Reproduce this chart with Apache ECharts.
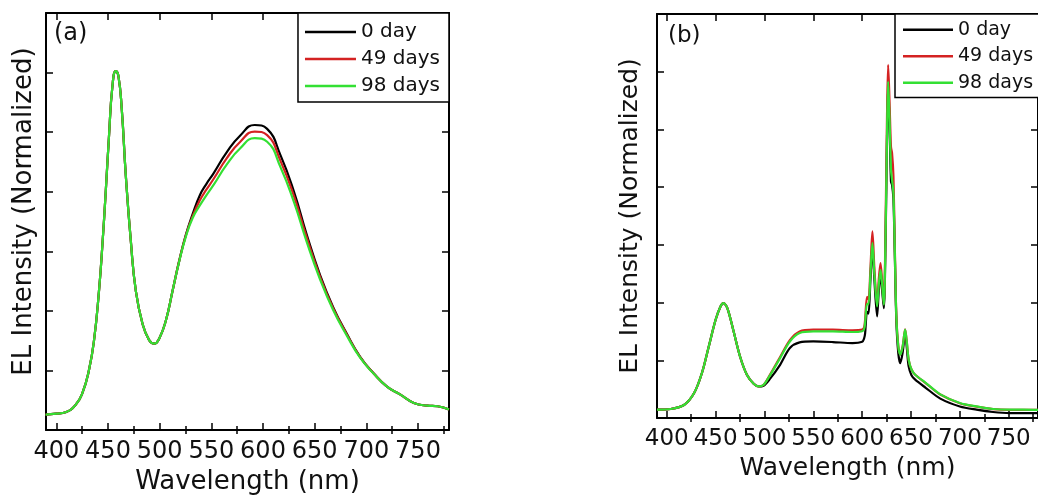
<!DOCTYPE html>
<html>
<head>
<meta charset="utf-8">
<script src="https://cdn.jsdelivr.net/npm/echarts@6/dist/echarts.min.js"></script>
<style>
html,body{margin:0;padding:0;background:#fff;}
#c{width:1038px;height:500px;}
</style>
</head>
<body>
<div id="c"></div>
<script>
// ---------- data ----------
const seriesNames = ['0 day', '49 days', '98 days'];
const majorTicks = [400, 450, 500, 550, 600, 650, 700, 750];
const minorTicks = [425, 475, 525, 575, 625, 675, 725, 775];

// panel (a)
const wlA = [389.6, 400, 409, 418.7, 425.2, 431.6, 436.5, 441.3, 444.6, 447.8, 451, 454.3, 457.5, 460.1, 463.3, 467.2, 472.1, 476.9, 483.4, 489.8, 494.7, 499.5, 506, 512.5, 518.9, 525.4, 531.9, 539, 545, 552, 565, 578, 592, 604, 617, 630, 642, 655, 668, 681, 694, 707, 720, 733, 746, 759, 769, 780];
const a0day = [0.052, 0.055, 0.060, 0.085, 0.124, 0.202, 0.302, 0.468, 0.623, 0.800, 0.989, 1.155, 1.205, 1.188, 1.078, 0.856, 0.634, 0.468, 0.357, 0.302, 0.290, 0.307, 0.368, 0.468, 0.568, 0.656, 0.725, 0.789, 0.825, 0.861, 0.933, 0.989, 1.024, 1.011, 0.922, 0.800, 0.660, 0.523, 0.412, 0.324, 0.246, 0.191, 0.146, 0.119, 0.091, 0.082, 0.080, 0.069];
const a49days = [0.052, 0.055, 0.060, 0.085, 0.124, 0.202, 0.302, 0.468, 0.623, 0.800, 0.989, 1.155, 1.205, 1.188, 1.078, 0.856, 0.634, 0.468, 0.357, 0.302, 0.290, 0.307, 0.368, 0.468, 0.568, 0.654, 0.718, 0.772, 0.806, 0.842, 0.913, 0.968, 1.002, 0.990, 0.903, 0.785, 0.650, 0.517, 0.408, 0.322, 0.245, 0.191, 0.146, 0.119, 0.091, 0.082, 0.080, 0.069];
const a98days = [0.052, 0.055, 0.060, 0.085, 0.124, 0.202, 0.302, 0.468, 0.623, 0.800, 0.989, 1.155, 1.205, 1.188, 1.078, 0.856, 0.634, 0.468, 0.357, 0.302, 0.290, 0.307, 0.368, 0.468, 0.566, 0.650, 0.712, 0.755, 0.787, 0.822, 0.892, 0.946, 0.980, 0.968, 0.882, 0.765, 0.635, 0.508, 0.402, 0.318, 0.243, 0.190, 0.146, 0.119, 0.091, 0.082, 0.080, 0.069];

// panel (b)
const wlB = [390, 404, 418, 428, 436, 443, 450, 455, 458, 462, 468, 475, 482, 489, 494, 499, 505, 516, 526, 536, 550, 570, 590, 600, 602, 603, 605, 606.5, 608.5, 610.5, 612.5, 615.3, 617, 618.8, 620.5, 622.2, 624, 625.5, 626.6, 628, 629.5, 630.6, 632, 633.4, 635, 637, 639, 641.5, 644, 645.8, 647.6, 650.5, 654.3, 665, 680, 700, 717, 734, 751, 765, 780];
const b0day = [0.072, 0.078, 0.115, 0.216, 0.390, 0.620, 0.851, 0.966, 0.996, 0.952, 0.765, 0.533, 0.375, 0.297, 0.274, 0.280, 0.332, 0.461, 0.606, 0.655, 0.663, 0.658, 0.649, 0.660, 0.690, 0.730, 0.920, 0.905, 1.200, 1.480, 1.200, 0.880, 1.100, 1.250, 1.100, 0.952, 1.550, 2.450, 2.880, 2.550, 2.050, 2.020, 1.900, 1.420, 0.840, 0.560, 0.476, 0.570, 0.736, 0.600, 0.447, 0.370, 0.332, 0.262, 0.168, 0.100, 0.072, 0.052, 0.043, 0.043, 0.042];
const b49days = [0.072, 0.078, 0.115, 0.216, 0.390, 0.620, 0.851, 0.966, 0.996, 0.952, 0.765, 0.533, 0.375, 0.297, 0.274, 0.286, 0.365, 0.528, 0.675, 0.750, 0.765, 0.765, 0.760, 0.765, 0.785, 0.850, 1.050, 1.030, 1.300, 1.616, 1.300, 0.980, 1.200, 1.342, 1.180, 0.990, 1.700, 2.650, 3.059, 2.750, 2.350, 2.294, 2.100, 1.500, 0.890, 0.625, 0.550, 0.625, 0.768, 0.650, 0.505, 0.420, 0.375, 0.303, 0.203, 0.128, 0.098, 0.077, 0.071, 0.071, 0.070];
const b98days = [0.072, 0.078, 0.115, 0.216, 0.390, 0.620, 0.851, 0.966, 0.996, 0.952, 0.765, 0.533, 0.375, 0.297, 0.274, 0.286, 0.360, 0.519, 0.663, 0.736, 0.750, 0.750, 0.745, 0.752, 0.770, 0.820, 0.990, 0.985, 1.250, 1.515, 1.250, 0.966, 1.150, 1.284, 1.150, 0.981, 1.600, 2.500, 2.914, 2.600, 2.150, 2.063, 1.950, 1.457, 0.880, 0.620, 0.548, 0.620, 0.765, 0.650, 0.505, 0.420, 0.375, 0.305, 0.205, 0.130, 0.100, 0.078, 0.072, 0.072, 0.070];

const colors = ['#000000', '#d42222', '#33e033'];
const FONT = 'DejaVu Sans';

// ---------- helpers ----------
function pairs(xs, ys) { return xs.map((x, i) => [x, ys[i]]); }

function xAxes(gridIndex, tickFont, nameSize) {
  const base = { type: 'value', gridIndex: gridIndex, min: 390, max: 780, splitLine: { show: false } };
  const line = { show: true, onZero: false, lineStyle: { color: '#000', width: 2 } };
  return [
    Object.assign({}, base, {
      position: 'bottom', axisLine: line,
      axisTick: { show: true, inside: true, length: 7, customValues: majorTicks, lineStyle: { color: '#000', width: 1.5 } },
      axisLabel: { show: true, customValues: majorTicks, margin: 10, color: '#111', fontSize: tickFont, fontFamily: FONT },
      name: 'Wavelength (nm)', nameLocation: 'middle', nameGap: 35,
      nameTextStyle: { fontSize: nameSize, fontFamily: FONT, color: '#111' }
    }),
    Object.assign({}, base, {
      position: 'bottom', axisLine: { show: false },
      axisTick: { show: true, inside: true, length: 4, customValues: minorTicks, lineStyle: { color: '#000', width: 1.5 } },
      axisLabel: { show: false }
    }),
    Object.assign({}, base, {
      position: 'top', axisLine: line,
      axisTick: { show: true, inside: true, length: 7, customValues: majorTicks, lineStyle: { color: '#000', width: 1.5 } },
      axisLabel: { show: false }
    }),
    Object.assign({}, base, {
      position: 'top', axisLine: { show: false },
      axisTick: { show: true, inside: true, length: 4, customValues: minorTicks, lineStyle: { color: '#000', width: 1.5 } },
      axisLabel: { show: false }
    })
  ];
}

function yAxes(gridIndex, max, interval, nameSize, nameGap, namePad) {
  const base = {
    type: 'value', gridIndex: gridIndex, min: 0, max: max, interval: interval,
    splitLine: { show: false },
    axisLine: { show: true, onZero: false, lineStyle: { color: '#000', width: 2 } },
    axisTick: { show: true, inside: true, length: 7, lineStyle: { color: '#000', width: 1.5 } },
    axisLabel: { show: false }
  };
  return [
    Object.assign({}, base, {
      position: 'left',
      name: 'EL Intensity (Normalized)', nameLocation: 'middle', nameGap: nameGap,
      nameTextStyle: { fontSize: nameSize, fontFamily: FONT, color: '#111', padding: namePad }
    }),
    Object.assign({}, base, { position: 'right' })
  ];
}

function lineSeries(name, xs, ys, color, xIdx, yIdx, smooth) {
  return {
    type: 'line', name: name, xAxisIndex: xIdx, yAxisIndex: yIdx,
    data: pairs(xs, ys), showSymbol: false, symbol: 'none',
    smooth: smooth,
    lineStyle: { color: color, width: 2.2 }, itemStyle: { color: color },
    emphasis: { disabled: true }
  };
}

const option = {
  animation: false,
  backgroundColor: '#fff',
  color: colors,
  title: [
    { text: '(a)', left: 54, top: 22, padding: 0, textStyle: { fontSize: 24, fontWeight: 'normal', fontFamily: FONT, color: '#111' } },
    { text: '(b)', left: 668, top: 25, padding: 0, textStyle: { fontSize: 23, fontWeight: 'normal', fontFamily: FONT, color: '#111' } }
  ],
  legend: [
    {
      data: seriesNames, orient: 'vertical', right: 589, top: 13,
      icon: 'rect', itemWidth: 51, itemHeight: 2.5, itemGap: 7,
      padding: [9, 9, 6, 7], borderColor: '#000', borderWidth: 1.5, backgroundColor: '#fff',
      textStyle: { fontSize: 20, lineHeight: 20, fontFamily: FONT, color: '#111' },
      selectedMode: false
    },
    {
      data: seriesNames, orient: 'vertical', left: 895, top: 14,
      icon: 'rect', itemWidth: 50, itemHeight: 2.5, itemGap: 7,
      padding: [6, 9, 5, 8], borderColor: '#000', borderWidth: 1.5, backgroundColor: '#fff',
      textStyle: { fontSize: 19, lineHeight: 19.5, fontFamily: FONT, color: '#111' },
      selectedMode: false
    }
  ],
  grid: [
    { left: 46, top: 13, width: 403, height: 421 },
    { left: 657, top: 14, width: 384, height: 404 }
  ],
  xAxis: xAxes(0, 24, 26).concat(xAxes(1, 23, 25)),
  yAxis: yAxes(0, 1.4, 0.2, 26, 9, [0, 0, 0, 20]).concat(yAxes(1, 3.5, 0.5, 25, 14, [0, 0, 0, 0])),
  series: [
    lineSeries(seriesNames[0], wlA, a0day, colors[0], 0, 0, 0.5),
    lineSeries(seriesNames[1], wlA, a49days, colors[1], 0, 0, 0.5),
    lineSeries(seriesNames[2], wlA, a98days, colors[2], 0, 0, 0.5),
    lineSeries(seriesNames[0], wlB, b0day, colors[0], 4, 2, 0.3),
    lineSeries(seriesNames[1], wlB, b49days, colors[1], 4, 2, 0.3),
    lineSeries(seriesNames[2], wlB, b98days, colors[2], 4, 2, 0.3)
  ]
};

const chart = echarts.init(document.getElementById('c'), null, { renderer: 'canvas' });
chart.setOption(option);
</script>
</body>
</html>
